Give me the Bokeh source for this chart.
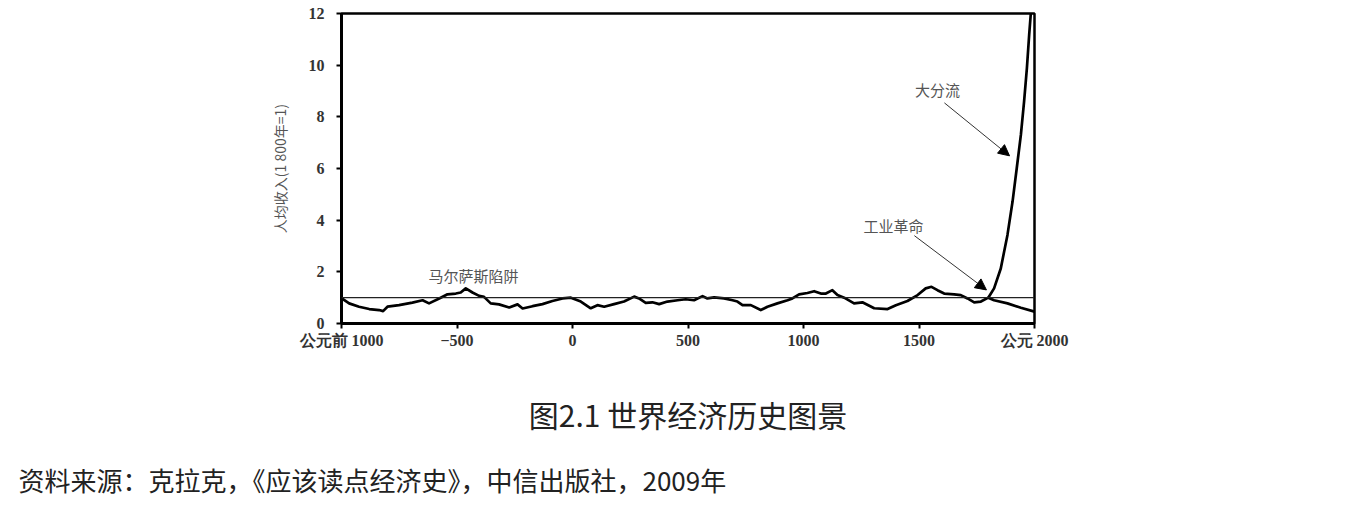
from bokeh.plotting import figure
from bokeh.models import Span, Arrow, NormalHead, Label, FixedTicker, Range1d, Title
from bokeh.embed import file_html
from bokeh.resources import INLINE

# ---- data ----
years_pre = [-1000, -967, -924, -880, -837, -820, -801, -751, -693, -649, -621, -577, -541, -505,
             -484, -462, -433, -404, -383, -354, -318, -274, -238, -216, -173, -130, -87, -43, -7,
             36, 79, 108, 137, 180, 223, 267, 288, 317, 346, 375, 411, 455, 490, 526, 563, 584,
             613, 656, 693, 714, 736, 772, 815, 844, 887, 931, 952, 981, 1017, 1046, 1075, 1097,
             1125, 1147, 1176, 1219, 1255, 1306, 1364, 1400, 1450, 1494, 1529, 1554, 1580, 1609,
             1652, 1681, 1710, 1739, 1768, 1800]
income_pre = [0.98, 0.78, 0.65, 0.56, 0.52, 0.48, 0.65, 0.71, 0.81, 0.90, 0.78, 0.97, 1.13, 1.16,
              1.20, 1.36, 1.20, 1.07, 1.03, 0.78, 0.74, 0.62, 0.74, 0.58, 0.67, 0.75, 0.87, 0.97, 1.0,
              0.85, 0.59, 0.71, 0.65, 0.75, 0.85, 1.04, 0.97, 0.80, 0.82, 0.75, 0.85, 0.90, 0.94, 0.90,
              1.06, 0.97, 1.01, 0.97, 0.90, 0.85, 0.71, 0.71, 0.52, 0.65, 0.78, 0.90, 0.97, 1.13, 1.18,
              1.25, 1.16, 1.16, 1.29, 1.10, 1.00, 0.78, 0.82, 0.59, 0.56, 0.71, 0.87, 1.10, 1.36, 1.42,
              1.29, 1.16, 1.13, 1.10, 0.97, 0.82, 0.85, 1.0]
years_rich = [1800, 1825, 1854, 1883, 1905, 1923, 1941, 1955, 1967, 1977, 1984, 1992]
income_rich = [1.0, 1.36, 2.13, 3.43, 4.72, 6.0, 7.3, 8.6, 9.88, 11.18, 12.0, 13.2]
years_poor = [1800, 1825, 1883, 1941, 2000]
income_poor = [1.0, 0.9, 0.78, 0.61, 0.46]

x_ticks = [-1000, -500, 0, 500, 1000, 1500, 2000]
x_tick_labels = ["公元前 1000", "\u2212500", "0", "500", "1000", "1500", "公元 2000"]
y_ticks = [0, 2, 4, 6, 8, 10, 12]
y_label = "人均收入(1 800年=1)"
caption = "图2.1 世界经济历史图景"
source = "资料来源：克拉克，《应该读点经济史》，中信出版社，2009年"
notes = ["马尔萨斯陷阱", "工业革命", "大分流"]

CJK = "Noto Sans CJK SC"
SERIF = "Liberation Serif"

p = figure(frame_width=693, frame_height=310, output_backend="svg", toolbar_location=None,
           x_range=Range1d(-1000, 2000), y_range=Range1d(0, 12),
           min_border_left=341, min_border_right=315, min_border_top=13, min_border_bottom=5)
p.background_fill_color = "white"
p.border_fill_color = "white"
p.outline_line_color = "black"
p.outline_line_width = 2.5
p.grid.visible = False

# axes
p.xaxis.ticker = FixedTicker(ticks=x_ticks)
p.xaxis.major_label_overrides = {t: l for t, l in zip(x_ticks, x_tick_labels)}
p.yaxis.ticker = FixedTicker(ticks=y_ticks)
for ax in (p.xaxis, p.yaxis):
    ax.axis_line_width = 3
    ax.axis_line_color = "black"
    ax.major_tick_line_width = 2
    ax.major_tick_line_color = "black"
    ax.major_tick_in = 0
    ax.major_tick_out = 5
    ax.minor_tick_line_color = None
    ax.major_label_text_font = SERIF
    ax.major_label_text_font_style = "bold"
    ax.major_label_text_font_size = "16px"
    ax.major_label_text_color = "#333333"
p.xaxis.major_label_standoff = 3
p.yaxis.major_label_standoff = 12
p.yaxis.axis_label = y_label
p.yaxis.axis_label_text_font = CJK
p.yaxis.axis_label_text_font_style = "normal"
p.yaxis.axis_label_text_font_size = "14px"
p.yaxis.axis_label_text_color = "#555555"
p.yaxis.axis_label_standoff = 16

# figure caption, set under the x axis
p.xaxis.axis_label = caption
p.xaxis.axis_label_text_font = CJK
p.xaxis.axis_label_text_font_style = "normal"
p.xaxis.axis_label_text_font_size = "30px"
p.xaxis.axis_label_text_color = "#222222"
p.xaxis.axis_label_standoff = 40

# reference line at 1
p.add_layout(Span(location=1, dimension="width", line_color="#222222", line_width=1.2))

# series
for xs, ys in ((years_pre, income_pre), (years_rich, income_rich), (years_poor, income_poor)):
    p.line(xs, ys, line_color="black", line_width=2.7, line_join="round")

# annotations
p.add_layout(Label(x=-429, y=1.85, text=notes[0], text_font=CJK, text_font_size="15px",
                   text_color="#555555", text_align="center", text_baseline="middle"))
p.add_layout(Label(x=1390, y=3.78, text=notes[1], text_font=CJK, text_font_size="15px",
                   text_color="#555555", text_align="center", text_baseline="middle"))
p.add_layout(Label(x=1580, y=9.05, text=notes[2], text_font=CJK, text_font_size="15px",
                   text_color="#555555", text_align="center", text_baseline="middle"))
p.add_layout(Arrow(end=NormalHead(size=11, fill_color="black", line_color="black"),
                   x_start=1610, y_start=8.54, x_end=1892, y_end=6.49,
                   line_color="#333333", line_width=1))
p.add_layout(Arrow(end=NormalHead(size=11, fill_color="black", line_color="black"),
                   x_start=1480, y_start=3.40, x_end=1792, y_end=1.30,
                   line_color="#333333", line_width=1))

# source line
p.add_layout(Title(text=source, text_font=CJK, text_font_size="26px", text_font_style="normal",
                   text_color="#222222", align="left", offset=-323, standoff=40), "below")

open("out.html", "w").write(file_html(p, INLINE))
